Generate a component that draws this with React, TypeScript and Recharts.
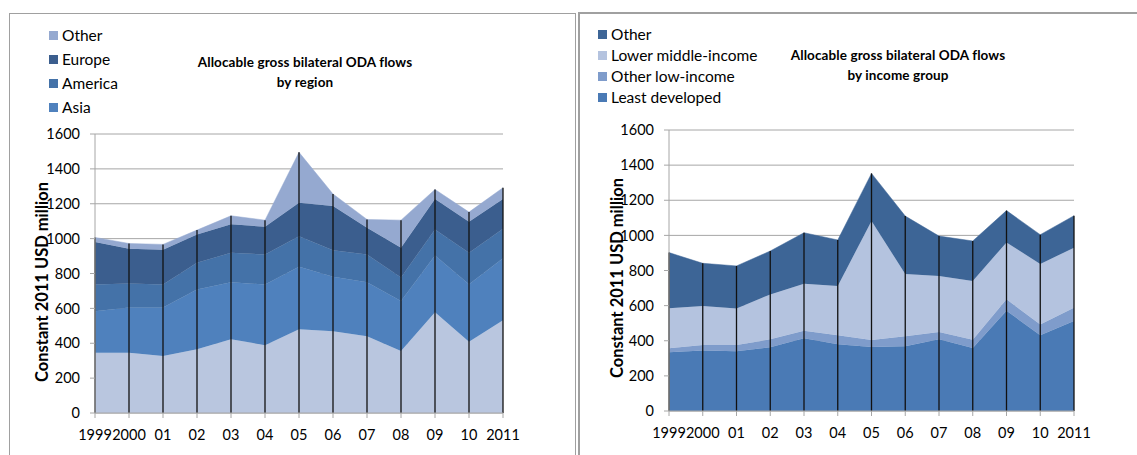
import React from 'react';
import { AreaChart, Area, XAxis, YAxis, CartesianGrid, ReferenceLine } from 'recharts';

const years = ['1999', '2000', '01', '02', '03', '04', '05', '06', '07', '08', '09', '10', '2011'];
const yTicks = [0, 200, 400, 600, 800, 1000, 1200, 1400, 1600];

// Left chart: by region (bottom to top)
const africa = [346, 346, 327, 366, 423, 389, 480, 469, 440, 356, 578, 408, 532];
const asia = [238, 259, 278, 342, 327, 348, 358, 312, 310, 287, 325, 331, 356];
const america = [153, 138, 132, 153, 169, 172, 176, 153, 159, 134, 150, 180, 169];
const europe = [243, 199, 199, 163, 164, 159, 192, 253, 153, 170, 174, 178, 170];
const otherRegion = [27, 30, 31, 25, 48, 38, 289, 69, 48, 159, 55, 55, 65];

// Right chart: by income group (bottom to top)
const leastDeveloped = [334, 344, 340, 363, 414, 380, 364, 368, 408, 359, 571, 431, 512];
const otherLowIncome = [23, 32, 36, 45, 43, 51, 40, 57, 42, 47, 65, 61, 76];
const lowerMiddle = [228, 222, 207, 256, 268, 281, 678, 355, 319, 334, 324, 345, 342];
const otherIncome = [317, 243, 243, 247, 290, 262, 271, 330, 227, 228, 181, 167, 182];

const regionData = years.map((y, i) => ({
  year: y,
  africa: africa[i],
  asia: asia[i],
  america: america[i],
  europe: europe[i],
  other: otherRegion[i],
  total: africa[i] + asia[i] + america[i] + europe[i] + otherRegion[i],
}));

const incomeData = years.map((y, i) => ({
  year: y,
  ldc: leastDeveloped[i],
  oli: otherLowIncome[i],
  lmi: lowerMiddle[i],
  other: otherIncome[i],
  total: leastDeveloped[i] + otherLowIncome[i] + lowerMiddle[i] + otherIncome[i],
}));

const FONT = 'Lato, "Open Sans", sans-serif';
const GRID = '#A6A6A6';

const regionSeries = [
  { key: 'africa', color: '#B9C6DF' },
  { key: 'asia', color: '#4F81BD' },
  { key: 'america', color: '#4472A8' },
  { key: 'europe', color: '#3B5E8E' },
  { key: 'other', color: '#95A9D0' },
];
const regionLegend = [
  { label: 'Other', color: '#95A9D0' },
  { label: 'Europe', color: '#3B5E8E' },
  { label: 'America', color: '#4472A8' },
  { label: 'Asia', color: '#4F81BD' },
];

const incomeSeries = [
  { key: 'ldc', color: '#4A7AB5' },
  { key: 'oli', color: '#7F9CCB' },
  { key: 'lmi', color: '#B4C3DF' },
  { key: 'other', color: '#3D6596' },
];
const incomeLegend = [
  { label: 'Other', color: '#3D6596' },
  { label: 'Lower middle-income', color: '#B4C3DF' },
  { label: 'Other low-income', color: '#7F9CCB' },
  { label: 'Least developed', color: '#4A7AB5' },
];

function Chart({ data, series, width, height, margin }: any) {
  return (
    <AreaChart width={width} height={height} data={data} margin={margin}>
      <CartesianGrid vertical={false} stroke={GRID} strokeWidth={1} />
      <XAxis
        dataKey="year"
        tick={{ fontFamily: FONT, fontSize: 14.5, fill: '#000' }}
        stroke={GRID}
        tickSize={5}
        tickMargin={12}
        interval={0}
        height={30}
      />
      <YAxis
        domain={[0, 1600]}
        ticks={yTicks}
        tick={{ fontFamily: FONT, fontSize: 14.5, fill: '#000' }}
        stroke={GRID}
        tickSize={5}
        tickMargin={10}
        width={50}
        interval={0}
      />
      {series.map((s: any) => (
        <Area
          key={s.key}
          type="linear"
          dataKey={s.key}
          stackId="a"
          fill={s.color}
          fillOpacity={1}
          stroke={s.color}
          strokeWidth={0.5}
          isAnimationActive={false}
          dot={false}
          activeDot={false}
        />
      ))}
      {data.map((d: any) => (
        <ReferenceLine
          key={'drop' + d.year}
          segment={[{ x: d.year, y: 0 }, { x: d.year, y: d.total }]}
          stroke="#111"
          strokeWidth={1.3}
        />
      ))}
    </AreaChart>
  );
}

function Legend({ items, left, top, gap }: any) {
  return (
    <div style={{ position: 'absolute', left, top, fontFamily: FONT, fontSize: 15.5, color: '#000' }}>
      {items.map((it: any, i: number) => (
        <div key={it.label} style={{ position: 'absolute', left: 0, top: i * gap, height: 20, display: 'flex', alignItems: 'center', whiteSpace: 'nowrap' }}>
          <span style={{ display: 'inline-block', width: 9, height: 9, background: it.color, marginRight: 4 }} />
          <span>{it.label}</span>
        </div>
      ))}
    </div>
  );
}

function Title({ lines, cx, top }: any) {
  return (
    <div style={{ position: 'absolute', left: cx - 160, top, width: 320, textAlign: 'center', fontFamily: FONT, fontWeight: 700, fontSize: 13.5, lineHeight: '20px', color: '#000', letterSpacing: 0.1 }}>
      {lines.map((l: string) => <div key={l}>{l}</div>)}
    </div>
  );
}

function YLabel({ cx, cy }: any) {
  return (
    <div style={{ position: 'absolute', left: cx - 130, top: cy - 10, width: 260, height: 20, lineHeight: '20px', textAlign: 'center', transform: 'rotate(-90deg)', fontFamily: FONT, fontWeight: 700, fontSize: 16.5, color: '#000', whiteSpace: 'nowrap' }}>
      Constant 2011 USD million
    </div>
  );
}

export default function App() {
  return (
    <div style={{ position: 'fixed', left: 0, top: 0, width: 1137, height: 455, background: '#fff', overflow: 'hidden' }}>
      {/* frames */}
      <div style={{ position: 'absolute', left: 9, top: 13, width: 567, height: 460, border: '1px solid #A0A0A0', boxSizing: 'border-box' }} />
      <div style={{ position: 'absolute', left: 578, top: 12, width: 570, height: 460, borderLeft: '2px solid #A0A0A0', borderTop: '2px solid #A0A0A0', boxSizing: 'border-box' }} />

      <div style={{ position: 'absolute', left: 0, top: 0 }}>
        <Chart data={regionData} series={regionSeries} width={577} height={455}
          margin={{ top: 134, right: 74, left: 45, bottom: 12 }} />
      </div>
      <div style={{ position: 'absolute', left: 577, top: 0 }}>
        <Chart data={incomeData} series={incomeSeries} width={560} height={455}
          margin={{ top: 130, right: 63, left: 42, bottom: 14 }} />
      </div>

      <Legend items={regionLegend} left={49} top={25} gap={24} />
      <Legend items={incomeLegend} left={598} top={24} gap={21} />
      <Title lines={['Allocable gross bilateral ODA flows', 'by region']} cx={305} top={52} />
      <Title lines={['Allocable gross bilateral ODA flows', 'by income group']} cx={898} top={45} />
      <YLabel cx={42} cy={282} />
      <YLabel cx={617} cy={278} />
    </div>
  );
}
